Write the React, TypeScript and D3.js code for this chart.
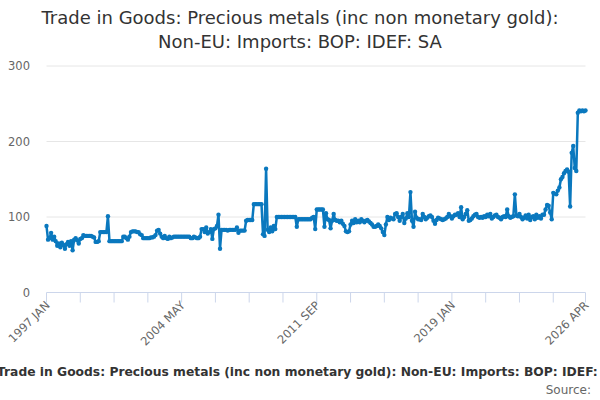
import React from "react";
import * as d3 from "d3";

const START_YEAR = 1997;
const MONTHS = ["JAN", "FEB", "MAR", "APR", "MAY", "JUN", "JUL", "AUG", "SEP", "OCT", "NOV", "DEC"];

const v1997_2000 = [
  88, 70, 72, 79, 70, 74, 68, 62, 65, 60, 66, 63,
  58, 64, 67, 62, 68, 56, 70, 72, 69, 65, 71, 72,
  76, 75, 75, 75, 75, 75, 74, 73, 67, 67, 68, 80,
  80, 80, 80, 80, 101, 68, 68, 68, 68, 68, 68, 68,
];
const v2001_2004 = [
  68, 68, 74, 74, 72, 70, 74, 80, 81, 81, 81, 80,
  80, 77, 76, 72, 72, 72, 72, 72, 73, 73, 74, 76,
  82, 83, 78, 74, 72, 75, 72, 71, 74, 72, 73, 74,
  74, 74, 74, 74, 74, 74, 74, 74, 74, 74, 72, 72,
];
const v2005_2008 = [
  74, 73, 72, 72, 74, 84, 84, 80, 86, 78, 80, 84,
  71, 84, 85, 88, 103, 58, 83, 83, 83, 83, 82, 83,
  83, 83, 83, 83, 86, 79, 82, 82, 82, 82, 95, 96,
  96, 96, 96, 117, 117, 117, 117, 117, 117, 77, 75, 164,
];
const v2009_2012 = [
  83, 80, 86, 81, 88, 84, 100, 100, 100, 100, 100, 100,
  100, 100, 100, 100, 100, 100, 100, 87, 97, 97, 97, 97,
  97, 97, 97, 97, 97, 99, 100, 84, 110, 110, 110, 110,
  110, 87, 105, 97, 96, 85, 95, 104, 96, 95, 95, 93,
];
const v2013_2016 = [
  95, 91, 88, 81, 80, 81, 90, 95, 92, 97, 93, 95,
  93, 97, 95, 93, 95, 96, 94, 92, 90, 87, 87, 88,
  90, 88, 85, 80, 76, 90, 100, 96, 99, 98, 97, 104,
  105, 100, 95, 100, 104, 92, 98, 105, 100, 133, 95, 87,
];
const v2017_2020 = [
  107, 99, 97, 97, 96, 104, 100, 97, 99, 101, 102, 100,
  95, 91, 96, 99, 98, 97, 96, 97, 98, 100, 104, 101,
  98, 101, 103, 103, 105, 100, 113, 97, 100, 104, 109, 95,
  96, 98, 101, 103, 104, 100, 99, 100, 99, 101, 100, 103,
];
const v2021_2026 = [
  101, 104, 98, 100, 102, 103, 100, 99, 97, 100, 101, 100,
  110, 101, 99, 100, 101, 130, 102, 101, 104, 100, 97, 99,
  102, 98, 103, 96, 100, 101, 97, 103, 99, 101, 98, 103,
  103, 110, 116, 115, 106, 97, 132, 131, 130, 135, 139, 150,
  153, 158, 161, 163, 160, 114, 185, 194, 165, 161, 238, 241,
  240, 241, 240, 241,
];

const values = [
  ...v1997_2000, ...v2001_2004, ...v2005_2008, ...v2009_2012,
  ...v2013_2016, ...v2017_2020, ...v2021_2026,
];

const yTicks = [0, 100, 200, 300];
const labelIdx = [0, 88, 176, 264, 351];
const TITLE1 = "Trade in Goods: Precious metals (inc non monetary gold):";
const TITLE2 = "Non-EU: Imports: BOP: IDEF: SA";
const CAPTION = "Trade in Goods: Precious metals (inc non monetary gold): Non-EU: Imports: BOP: IDEF: SA";

const monthLabel = (i: number) => `${START_YEAR + Math.floor(i / 12)} ${MONTHS[i % 12]}`;

export default function App() {
  const W = 600, H = 400;
  const n = values.length;
  const x = d3.scaleLinear().domain([0, n - 1]).range([46.5, 585.5]);
  const y = d3.scaleLinear().domain([0, 300]).range([292.5, 66]);
  const line = d3.line<number>().x((_, i) => x(i)).y((d) => y(d));
  const minorTicks = d3.range(0, n, 22).concat([n - 1]);
  const font = "'DejaVu Sans', sans-serif";
  const color = "#0a78be";

  return (
    <svg width={W} height={H} style={{ position: "absolute", left: 0, top: 0, background: "#fff" }} fontFamily={font}>
      <text x={300} y={24} textAnchor="middle" fontSize={18} fill="#333">{TITLE1}</text>
      <text x={300} y={48} textAnchor="middle" fontSize={18} fill="#333">{TITLE2}</text>
      {yTicks.filter((t) => t > 0).map((t) => (
        <line key={t} x1={46.5} x2={585.5} y1={y(t)} y2={y(t)} stroke="#e6e6e6" strokeWidth={1} />
      ))}
      {yTicks.map((t) => (
        <text key={"l" + t} x={30} y={y(t) + 4} textAnchor="end" fontSize={11.5} fill="#666">{t}</text>
      ))}
      <line x1={46.5} x2={585.5} y1={292.5} y2={292.5} stroke="#ccd6eb" strokeWidth={1} />
      {minorTicks.map((i) => (
        <line key={"t" + i} x1={x(i)} x2={x(i)} y1={292.5} y2={302.5} stroke="#ccd6eb" strokeWidth={1} />
      ))}
      {labelIdx.map((i) => (
        <text key={"x" + i} transform={`translate(${x(i) + 4},${306}) rotate(-45)`} textAnchor="end" fontSize={11.5} fill="#666">
          {monthLabel(i)}
        </text>
      ))}
      <path d={line(values) || ""} fill="none" stroke={color} strokeWidth={2.5} strokeLinejoin="round" />
      {values.map((v, i) => (
        <circle key={"p" + i} cx={x(i)} cy={y(v)} r={2.2} fill={color} />
      ))}
      <text x={-3} y={376} fontSize={12.3} fontWeight="bold" fill="#333">{CAPTION}</text>
      <text x={591} y={394} textAnchor="end" fontSize={12} fill="#666">Source:</text>
    </svg>
  );
}
